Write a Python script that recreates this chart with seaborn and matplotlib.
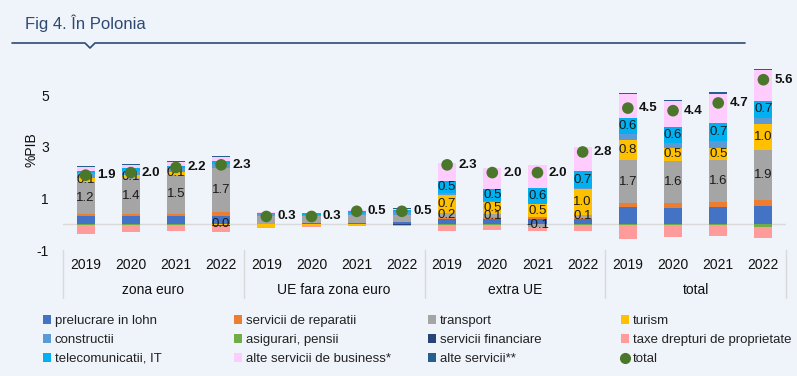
import numpy as np
import pandas as pd
import matplotlib
matplotlib.use("Agg")
import matplotlib.pyplot as plt
import matplotlib.transforms as mtransforms
from matplotlib.patches import Patch
from matplotlib.lines import Line2D
import seaborn as sns

# ---------------- data ----------------
groups = ["zona euro", "UE fara zona euro", "extra UE", "total"]
years = ["2019", "2020", "2021", "2022"]

series_names = ["prelucrare in lohn", "servicii de reparatii", "transport", "turism",
                "constructii", "asigurari, pensii", "servicii financiare",
                "taxe drepturi de proprietate", "telecomunicatii, IT",
                "alte servicii de business*", "alte servicii**"]

#            zona euro                  UE fara zona euro          extra UE                  total
lohn       = [0.33, 0.31, 0.33, 0.31,   0.02, 0.03, 0.06, 0.07,   0.20, 0.22, 0.22, 0.20,   0.68, 0.64, 0.68, 0.72]
reparatii  = [0.08, 0.10, 0.08, 0.18,   0.00, 0.02, 0.00, 0.00,   0.05, 0.06, 0.05, 0.05,   0.13, 0.19, 0.19, 0.22]
transport  = [1.24, 1.37, 1.50, 1.70,   0.30, 0.25, 0.30, 0.30,   0.20, 0.10, -0.10, 0.10,  1.66, 1.63, 1.60, 1.94]
turism     = [0.13, 0.13, 0.13, -0.02,  -0.12, -0.03, -0.02, 0.00, 0.70, 0.47, 0.50, 1.00,  0.80, 0.50, 0.48, 1.01]
constructii = [0.19, 0.17, 0.15, 0.15,  0.08, 0.07, 0.08, 0.10,   0.05, 0.03, 0.03, 0.05,   0.23, 0.19, 0.26, 0.22]
asigurari  = [-0.02, -0.02, -0.02, -0.02, 0.00, 0.00, 0.00, 0.00, -0.05, -0.03, 0.00, -0.05, -0.05, -0.05, -0.05, -0.10]
financiare = [0.00, 0.00, 0.00, -0.03,  0.00, 0.00, 0.00, -0.04,  0.00, 0.00, 0.00, 0.00,   0.00, 0.00, 0.00, 0.00]
taxe       = [-0.35, -0.27, -0.23, -0.25, -0.03, -0.07, -0.06, -0.03, -0.22, -0.20, -0.17, -0.20, -0.52, -0.45, -0.42, -0.45]
telecom    = [0.09, 0.09, 0.08, 0.10,   0.05, 0.05, 0.06, 0.08,   0.48, 0.50, 0.60, 0.66,   0.63, 0.63, 0.71, 0.68]
business   = [0.16, 0.12, 0.13, 0.15,   0.03, 0.00, 0.05, 0.05,   0.70, 0.80, 0.88, 0.93,   0.92, 0.99, 1.14, 1.20]
alte       = [0.05, 0.05, 0.05, 0.05,   0.00, 0.00, 0.00, 0.02,   0.00, 0.00, 0.00, 0.00,   0.05, 0.05, 0.06, 0.03]
total      = [1.9, 2.0, 2.2, 2.3,       0.3, 0.3, 0.5, 0.5,       2.3, 2.0, 2.0, 2.8,       4.5, 4.4, 4.7, 5.6]

series_values = [lohn, reparatii, transport, turism, constructii, asigurari,
                 financiare, taxe, telecom, business, alte]

colors = ["#4472C4", "#ED7D31", "#A5A5A5", "#FFC000", "#5B9BD5", "#70AD47",
          "#264478", "#FF9B9B", "#00B0F0", "#FFCCFF", "#255E91"]
total_color = "#4A7729"

# segments that carry a data label, and the groups where they are shown
labelled = {"transport": ["zona euro", "extra UE", "total"],
            "turism": ["zona euro", "extra UE", "total"],
            "telecomunicatii, IT": ["extra UE", "total"]}

# ---------------- figure ----------------
bg = "#EFF3FA"
sns.set_theme(style="white")
plt.rcParams["font.family"] = ["Liberation Sans", "DejaVu Sans"]

W, H = 797, 376
fig = plt.figure(figsize=(W / 100, H / 100), dpi=100, facecolor=bg)
ax_left, ax_right, ax_top, ax_bot = 63, 786, 69.4, 250
ax = fig.add_axes([ax_left / W, 1 - ax_bot / H, (ax_right - ax_left) / W, (ax_bot - ax_top) / H])
ax.set_facecolor(bg)

cats = [f"{g}|{y}" for g in groups for y in years]
grp_of = [g for g in groups for y in years]
df = pd.DataFrame({"cat": cats, "group": grp_of})
for name, vals in zip(series_names, series_values):
    df[name] = vals
df["total"] = total

ax.axhline(0, color="#D9D9D9", lw=1, zorder=0)

pos_base = np.zeros(len(cats))
neg_base = np.zeros(len(cats))
label_items = []
for name, col in zip(series_names, colors):
    v = df[name].to_numpy(dtype=float)
    pos = np.where(v > 0, v, 0.0)
    neg = np.where(v < 0, v, 0.0)
    for part, base in ((pos, pos_base), (neg, neg_base)):
        tmp = pd.DataFrame({"cat": cats, "h": part})
        sns.barplot(data=tmp, x="cat", y="h", order=cats, color=col, saturation=1,
                    width=0.4, errorbar=None, bottom=base.copy(), linewidth=0,
                    edgecolor="none", ax=ax, zorder=2)
    if name in labelled:
        for i, val in enumerate(v):
            if grp_of[i] in labelled[name]:
                yc = (pos_base[i] + val / 2) if val >= 0 else (neg_base[i] + val / 2)
                label_items.append((i, yc, val))
    pos_base = pos_base + pos
    neg_base = neg_base + neg

for i, yc, val in label_items:
    s = f"{val:.1f}"
    if s == "-0.0":
        s = "0.0"
    ax.text(i, yc, s, ha="center", va="center", fontsize=9.5, color="#1a1a1a", zorder=4)

xpos = np.arange(len(cats))
sns.scatterplot(x=xpos, y=total, color=total_color, s=70, edgecolor="none", ax=ax, zorder=5)
for i, t in enumerate(total):
    ax.annotate(f"{t:.1f}", (i, t), xytext=(8, 0), textcoords="offset points",
                ha="left", va="center", fontsize=9.5, fontweight="bold", color="#111111", zorder=6)

ax.set_xlim(-0.5, len(cats) - 0.5)
ax.set_ylim(-1, 6)
ax.set_yticks([-1, 1, 3, 5])
ax.set_yticklabels(["-1", "1", "3", "5"])
ax.set_xticks(xpos)
ax.set_xticklabels(years * len(groups))
ax.tick_params(axis="x", length=0, pad=6, labelsize=10, colors="#111111")
ax.tick_params(axis="y", length=0, pad=10, labelsize=10, colors="#111111")
ax.set_xlabel("")
ax.set_ylabel("%PIB", fontsize=10, color="#111111")
ax.yaxis.set_label_coords(-0.034, 0.554)
for sp in ax.spines.values():
    sp.set_visible(False)

blend = mtransforms.blended_transform_factory(ax.transData, ax.transAxes)
for gi, g in enumerate(groups):
    ax.text(gi * 4 + 1.5, -0.2215, g, transform=blend, ha="center", va="center",
            fontsize=10, color="#111111")
for b in np.arange(len(groups) + 1) * 4 - 0.5:
    ax.plot([b, b], [0, -0.266], transform=blend, clip_on=False, color="#D9D9D9", lw=1)

# title and rule
fig.text(25 / W, 1 - 23 / H, "Fig 4. În Polonia", fontsize=12, color="#2E4A72",
         ha="left", va="center")
lx = np.array([12, 85, 90, 95, 745]) / W
ly = 1 - np.array([43, 43, 48, 43, 43]) / H
fig.add_artist(Line2D(lx, ly, color="#2E4A72", lw=1.2, transform=fig.transFigure))

# legend: 4 columns, row-major
handles = [Patch(facecolor=c, edgecolor="none") for c in colors]
handles.append(Line2D([], [], marker="o", linestyle="", color=total_color, markersize=7))
labels = series_names + ["total"]
col_x = [43, 234, 428, 621]
for c in range(4):
    idx = [c, c + 4, c + 8]
    fig.legend([handles[k] for k in idx], [labels[k] for k in idx], loc="upper left",
               bbox_to_anchor=(col_x[c] / W, 1 - 315 / H), frameon=False, fontsize=9.5,
               handlelength=0.6, handleheight=0.6, handletextpad=0.3, labelspacing=0.53,
               borderpad=0, borderaxespad=0, labelcolor="#222222")

fig.savefig("out.png", dpi=100, facecolor=bg)
